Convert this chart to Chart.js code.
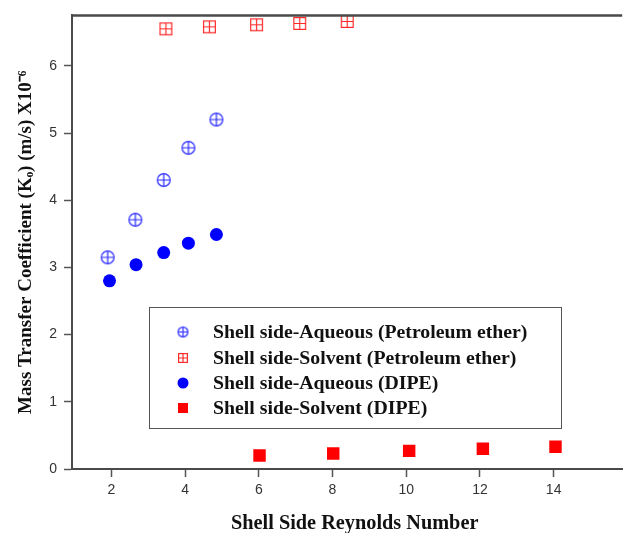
<!DOCTYPE html>
<html lang="en">
<head>
  <meta charset="UTF-8">
  <title>Mass Transfer Coefficient vs Shell Side Reynolds Number</title>
  <script src="https://cdn.jsdelivr.net/npm/chart.js"></script>
  <style>
    html, body { margin: 0; padding: 0; background: #fff; overflow: hidden; }
    #wrap { width: 631px; height: 533px; }
  </style>
</head>
<body>
  <div id="wrap"><canvas id="myChart"></canvas></div>

  <script>
    // values
    const aqPetX = [1.90, 2.65, 3.42, 4.09, 4.85];
    const aqPetY = [3.15, 3.71, 4.30, 4.78, 5.20];
    const solPetX = [3.48, 4.66, 5.94, 7.11, 8.40];
    const solPetY = [6.55, 6.58, 6.61, 6.63, 6.66];
    const aqDipeX = [1.95, 2.67, 3.42, 4.09, 4.85];
    const aqDipeY = [2.80, 3.04, 3.22, 3.36, 3.49];
    const solDipeX = [6.02, 8.02, 10.08, 12.08, 14.05];
    const solDipeY = [0.20, 0.23, 0.27, 0.30, 0.33];

    const seriesNames = [
      'Shell side-Aqueous (Petroleum ether)',
      'Shell side-Solvent (Petroleum ether)',
      'Shell side-Aqueous (DIPE)',
      'Shell side-Solvent (DIPE)'
    ];
    const xTicks = [2, 4, 6, 8, 10, 12, 14];
    const yTicks = [0, 1, 2, 3, 4, 5, 6];
    // leading spaces nudge the centred title a little to the right, as in the original
    const xTitle = '   Shell Side Reynolds Number';
    const yTitle = 'Mass Transfer Coefficient (K\u2092) (m/s) X10\u207B\u2076';

    const toPoints = (xs, ys) => xs.map((x, i) => ({ x: x, y: ys[i] }));

    // hollow markers with a cross inside
    function crossCircle(size, color) {
      const c = document.createElement('canvas');
      c.width = size + 2; c.height = size + 2;
      const g = c.getContext('2d');
      const m = c.width / 2, r = size / 2 - 0.6;
      g.strokeStyle = color; g.lineWidth = 1.2;
      g.beginPath(); g.arc(m, m, r, 0, Math.PI * 2); g.stroke();
      g.beginPath();
      g.moveTo(m - r, m); g.lineTo(m + r, m);
      g.moveTo(m, m - r); g.lineTo(m, m + r);
      g.stroke();
      return c;
    }
    function crossSquare(size, color) {
      const c = document.createElement('canvas');
      c.width = size + 2; c.height = size + 2;
      const g = c.getContext('2d');
      const m = c.width / 2, h = size / 2 - 0.6;
      g.strokeStyle = color; g.lineWidth = 1.2;
      g.strokeRect(m - h, m - h, 2 * h, 2 * h);
      g.beginPath();
      g.moveTo(m - h, m); g.lineTo(m + h, m);
      g.moveTo(m, m - h); g.lineTo(m, m + h);
      g.stroke();
      return c;
    }

    const blueOpen = crossCircle(14, '#2a2aff');
    const redOpen = crossSquare(13, '#ff2a2a');
    const blueOpenSmall = crossCircle(11, '#2a2aff');
    const redOpenSmall = crossSquare(10, '#ff2a2a');

    // legend box inside the plot, plus the top frame line
    const framePlugin = {
      id: 'frame',
      afterDraw(chart) {
        const ctx = chart.ctx;
        const a = chart.chartArea;
        ctx.save();
        ctx.strokeStyle = '#4a4a4a';
        ctx.lineWidth = 2.5;
        ctx.beginPath();
        ctx.moveTo(a.left - 1, a.top);
        ctx.lineTo(a.right, a.top);
        ctx.stroke();

        // legend
        const bx = 149, by = 307, bw = 412, bh = 121;
        ctx.lineWidth = 1;
        ctx.strokeStyle = '#555';
        ctx.strokeRect(bx + 0.5, by + 0.5, bw, bh);

        const rows = [332, 358, 383, 408];
        const mx = 183, tx = 213;
        ctx.font = 'bold 19.8px "Liberation Serif", "Times New Roman", serif';
        ctx.textBaseline = 'middle';
        chart.data.datasets.forEach((ds, i) => {
          const y = rows[i];
          if (i === 0) ctx.drawImage(blueOpenSmall, mx - blueOpenSmall.width / 2, y - blueOpenSmall.height / 2);
          if (i === 1) ctx.drawImage(redOpenSmall, mx - redOpenSmall.width / 2, y - redOpenSmall.height / 2);
          if (i === 2) {
            ctx.fillStyle = '#0000ff';
            ctx.beginPath(); ctx.arc(mx, y, 5.5, 0, Math.PI * 2); ctx.fill();
          }
          if (i === 3) {
            ctx.fillStyle = '#ff0000';
            ctx.fillRect(mx - 5, y - 5, 10, 10);
          }
          ctx.fillStyle = '#111';
          ctx.fillText(ds.label, tx, y + 1);
        });
        ctx.restore();
      }
    };

    const tickFont = { family: '"Liberation Sans", Arial, sans-serif', size: 14 };
    const serif = '"Liberation Serif", "Times New Roman", serif';

    const ctx = document.getElementById('myChart').getContext('2d');
    const chart = new Chart(ctx, {
      type: 'scatter',
      data: {
        datasets: [
          {
            label: seriesNames[0],
            data: toPoints(aqPetX, aqPetY),
            pointStyle: blueOpen,
          },
          {
            label: seriesNames[1],
            data: toPoints(solPetX, solPetY),
            pointStyle: redOpen,
          },
          {
            label: seriesNames[2],
            data: toPoints(aqDipeX, aqDipeY),
            pointStyle: 'circle',
            pointRadius: 6.5,
            backgroundColor: '#0000ff',
            borderWidth: 0,
          },
          {
            label: seriesNames[3],
            data: toPoints(solDipeX, solDipeY),
            pointStyle: 'rect',
            pointRadius: 8.8,
            backgroundColor: '#ff0000',
            borderWidth: 0,
          }
        ]
      },
      options: {
        responsive: true,
        maintainAspectRatio: false,
        animation: false,
        layout: { padding: { top: 14, right: 0, bottom: 0, left: 0 } },
        plugins: {
          legend: { display: false },
          tooltip: { enabled: false },
        },
        scales: {
          x: {
            type: 'linear',
            min: 0.932,
            max: 15.86,
            afterBuildTicks: (s) => { s.ticks = xTicks.map(v => ({ value: v })); },
            afterFit: (s) => { s.height = 64; },
            grid: { display: true, drawOnChartArea: false, drawTicks: true, tickLength: 8, tickColor: '#555', tickWidth: 1.5 },
            border: { display: true, color: '#4a4a4a', width: 2 },
            ticks: { color: '#333', font: tickFont, padding: 5, maxRotation: 0 },
            title: {
              display: true, text: xTitle, color: '#111',
              font: { family: serif, size: 20.3, weight: 'bold', lineHeight: 0.9 },
              padding: { top: 4, bottom: 0 }
            },
          },
          y: {
            type: 'linear',
            min: 0,
            max: 6.75,
            afterBuildTicks: (s) => { s.ticks = yTicks.map(v => ({ value: v })); },
            afterFit: (s) => { s.width = 72; },
            grid: { display: true, drawOnChartArea: false, drawTicks: true, tickLength: 8, tickColor: '#555', tickWidth: 1.5 },
            border: { display: true, color: '#4a4a4a', width: 2 },
            ticks: { color: '#333', font: tickFont, padding: 7 },
            title: {
              display: true, text: yTitle, color: '#111',
              font: { family: serif, size: 19, weight: 'bold', lineHeight: 1.2 },
              padding: { top: 15, bottom: 0 }
            },
          }
        }
      },
      plugins: [framePlugin]
    });
  </script>
</body>
</html>
